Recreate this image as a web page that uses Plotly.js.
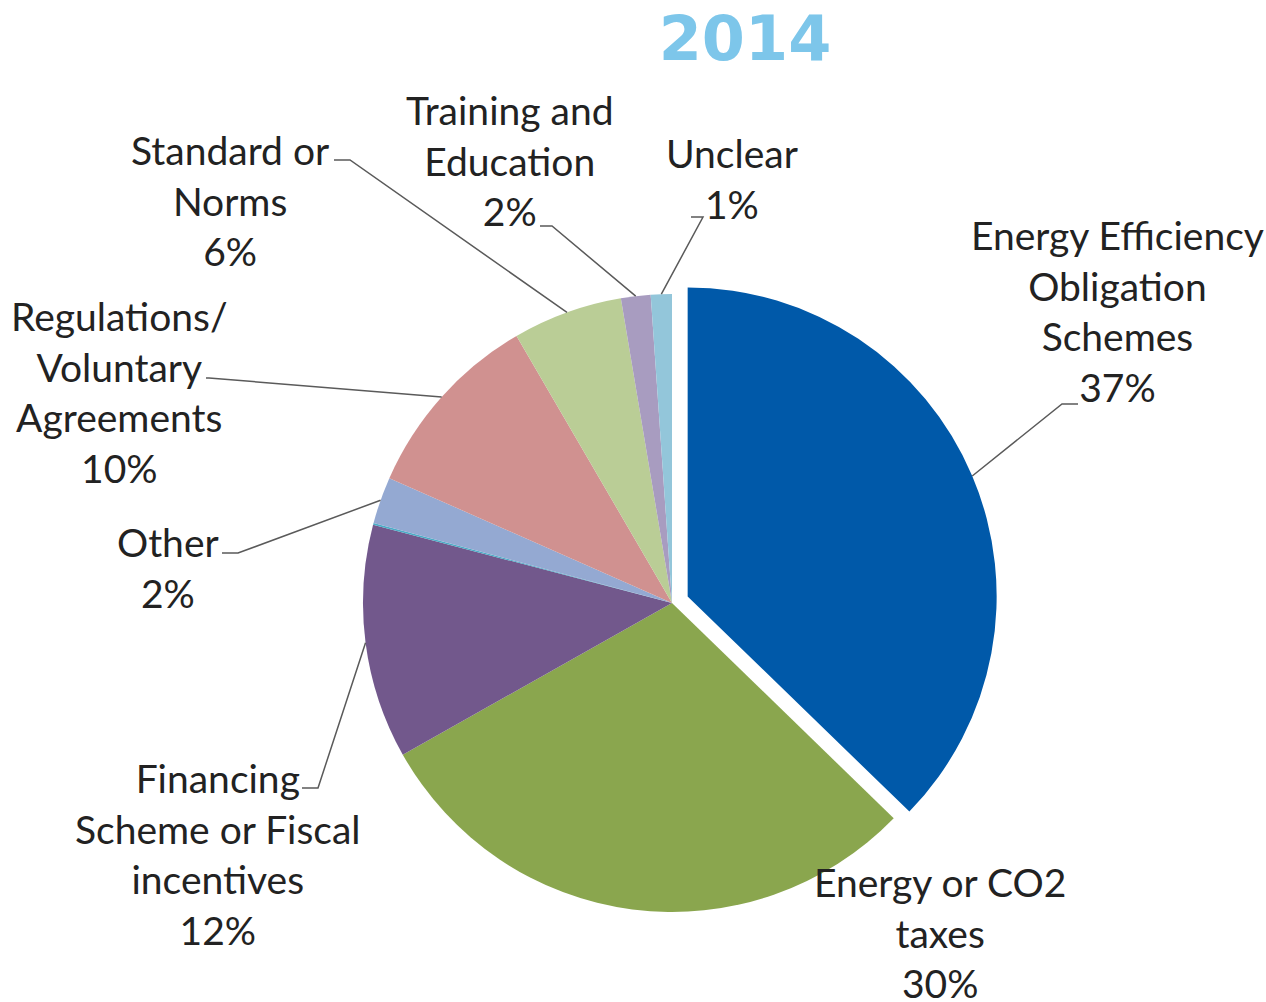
<!DOCTYPE html>
<html>
<head>
<meta charset="utf-8">
<script src="https://cdn.plot.ly/plotly-3.0.1.min.js"></script>
<style>
  html, body { margin: 0; padding: 0; background: #ffffff; }
  #chart { width: 1266px; height: 1002px; }
</style>
</head>
<body>
<div id="chart"></div>
<script>
// slice data, clockwise from 12 o'clock
const categories = [
    'Energy Efficiency<br>Obligation<br>Schemes',
    'Energy or CO2<br>taxes',
    'Financing<br>Scheme or Fiscal<br>incentives',
    '',
    'Other',
    'Regulations/<br>Voluntary<br>Agreements',
    'Standard or<br>Norms',
    'Training and<br>Education',
    'Unclear'
];
const shares = [37.3, 29.6, 12.25, 0.1, 2.45, 10.0, 5.75, 1.55, 1.1];
const sliceColors = ['#0059A9', '#8AA64E', '#72588C', '#4BACC6', '#94A9D2', '#D09190', '#BACD96', '#A89CC0', '#93C6DA'];

const W = 1266, H = 1002;
const px = x => x / W;
const py = y => 1 - y / H;

// pie geometry (pixels) used only to anchor the leader lines
const cx = 672, cy = 603, R = 309;
const pullFrac = 0.055;
const total = shares.reduce((a, b) => a + b, 0);

// mid-angle of each slice (degrees clockwise from top)
const midAngles = [];
let acc = 0;
shares.forEach(v => {
    const a = v / total * 360;
    midAngles.push(acc + a / 2);
    acc += a;
});

function edgePoint(i) {
    const t = midAngles[i] * Math.PI / 180;
    const off = (i === 0 ? pullFrac * R : 0);
    const ox = cx + off * Math.sin(t), oy = cy - off * Math.cos(t);
    return [ox + R * Math.sin(t), oy - R * Math.cos(t)];
}

// label placement: [slice index, label centre x, centre y, elbow points]
const labelSpots = [
    [0, 1117, 311, [[1062, 404], [1078, 404]]],
    [1, 940, 932, null],
    [2, 218, 854, [[318, 788], [302, 788]]],
    [4, 168, 567, [[238, 553], [222, 553]]],
    [5, 120, 392, [[209, 378], [206, 378]]],
    [6, 230, 201, [[350, 160], [334, 160]]],
    [7, 510, 160, [[552, 226], [540, 226]]],
    [8, 732, 179, [[703, 217], [691, 217]]]
];

const annotations = [];
const shapes = [];
labelSpots.forEach(([i, lx, ly, elbow]) => {
    const pct = Math.round(shares[i] / total * 100);
    annotations.push({
        xref: 'paper', yref: 'paper',
        x: px(lx), y: py(ly),
        xanchor: 'center', yanchor: 'middle', align: 'center',
        showarrow: false,
        text: categories[i] + '<br>' + pct + '%',
        font: { family: 'Lato, "Open Sans", sans-serif', size: 39, color: '#222222' }
    });
    if (elbow) {
        const pts = [edgePoint(i)].concat(elbow);
        const path = pts.map((p, k) => (k === 0 ? 'M ' : 'L ') + px(p[0]) + ' ' + py(p[1])).join(' ');
        shapes.push({
            type: 'path', xref: 'paper', yref: 'paper', path: path,
            line: { color: '#5A5A5A', width: 1.5 }
        });
    }
});

const half = R * (1 + pullFrac);
const data = [{
    type: 'pie',
    values: shares,
    labels: categories.map((c, i) => c || 'n/a'),
    marker: { colors: sliceColors, line: { width: 0 } },
    sort: false,
    direction: 'clockwise',
    rotation: 0,
    pull: shares.map((v, i) => (i === 0 ? pullFrac : 0)),
    textinfo: 'none',
    hoverinfo: 'none',
    domain: {
        x: [px(cx - half), px(cx + half)],
        y: [py(cy + half), py(cy - half)]
    }
}];

const layout = {
    width: W,
    height: H,
    title: {
        text: '<b>2014</b>',
        x: px(745), y: py(38),
        xanchor: 'center', yanchor: 'middle',
        font: { family: '"DejaVu Sans", sans-serif', size: 62, color: '#7DC6EA' }
    },
    showlegend: false,
    margin: { t: 0, b: 0, l: 0, r: 0 },
    paper_bgcolor: '#ffffff',
    annotations: annotations,
    shapes: shapes
};

Plotly.newPlot('chart', data, layout, { displayModeBar: false, staticPlot: true });
</script>
</body>
</html>
